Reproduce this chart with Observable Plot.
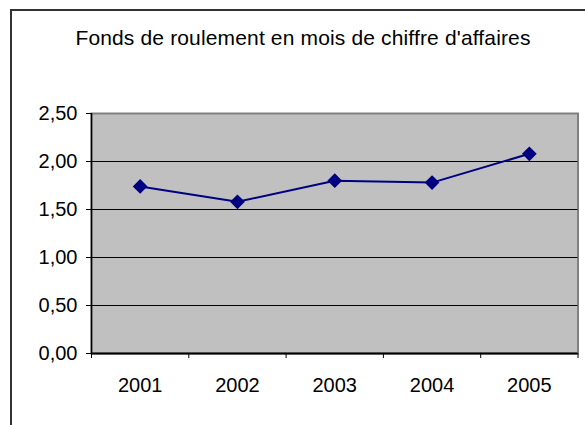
<!DOCTYPE html>
<html>
<head>
<meta charset="utf-8">
<script src="https://cdn.jsdelivr.net/npm/d3@7"></script>
<script src="https://cdn.jsdelivr.net/npm/@observablehq/plot@0.6"></script>
<style>
  html, body { margin: 0; padding: 0; background: #fff; overflow: hidden; }
  #wrap { position: relative; width: 585px; height: 425px; overflow: hidden; font-family: "Liberation Sans", Arial, sans-serif; }
  #box { position: absolute; left: 10px; top: 9px; width: 640px; height: 480px; border-left: 2px solid #333; border-top: 2px solid #333; }
  #title { position: absolute; left: 11px; width: 584px; top: 27px; text-align: center; font-size: 21px; line-height: 21px; letter-spacing: 0.15px; color: #000; white-space: nowrap; }
  #chart { position: absolute; left: 0; top: 0; }
</style>
</head>
<body>
<div id="wrap">
  <div id="box"></div>
  <div id="title">Fonds de roulement en mois de chiffre d'affaires</div>
  <div id="chart"></div>
</div>
<script>
const years = [2001, 2002, 2003, 2004, 2005];
const values = [1.74, 1.58, 1.80, 1.78, 2.08];
const yTicks = [0, 0.5, 1, 1.5, 2, 2.5];
const gridTicks = [0.5, 1, 1.5, 2];

const data = years.map((year, i) => ({year, value: values[i]}));
const bounds = years.map(y => y - 0.5).concat([years[years.length - 1] + 0.5]);
const fmt = d => d.toFixed(2).replace(".", ",");

const chart = Plot.plot({
  width: 585,
  height: 425,
  marginLeft: 91,
  marginRight: 7.5,
  marginTop: 113,
  marginBottom: 72,
  style: {fontFamily: "'Liberation Sans', Arial, sans-serif", fontSize: "20px", color: "#000", background: "transparent", overflow: "visible"},
  x: {type: "linear", domain: [bounds[0], bounds[bounds.length - 1]], axis: null, label: null},
  y: {domain: [0, 2.5], axis: null, label: null},
  marks: [
    Plot.frame({fill: "#c0c0c0", stroke: "#808080", strokeWidth: 2}),
    Plot.gridY(gridTicks, {stroke: "#000", strokeOpacity: 1, strokeWidth: 1}),
    Plot.ruleX([bounds[0]], {stroke: "#000", strokeWidth: 1.5}),
    Plot.ruleY([0], {stroke: "#000", strokeWidth: 2}),
    Plot.axisY(yTicks, {label: null, tickSize: 5, tickPadding: 9, tickFormat: fmt, fontSize: 20, fill: "#000", stroke: "#000"}),
    Plot.axisX(bounds, {label: null, tickSize: 5, tickFormat: () => "", stroke: "#000"}),
    Plot.axisX(years, {label: null, tickSize: 0, tickPadding: 24, tickFormat: d => String(d), fontSize: 20, fill: "#000"}),
    Plot.line(data, {x: "year", y: "value", stroke: "#000080", strokeWidth: 2}),
    Plot.dot(data, {x: "year", y: "value", symbol: "diamond2", r: 5.7, fill: "#000080", stroke: "#000080"})
  ]
});
document.getElementById("chart").appendChild(chart);
</script>
</body>
</html>
